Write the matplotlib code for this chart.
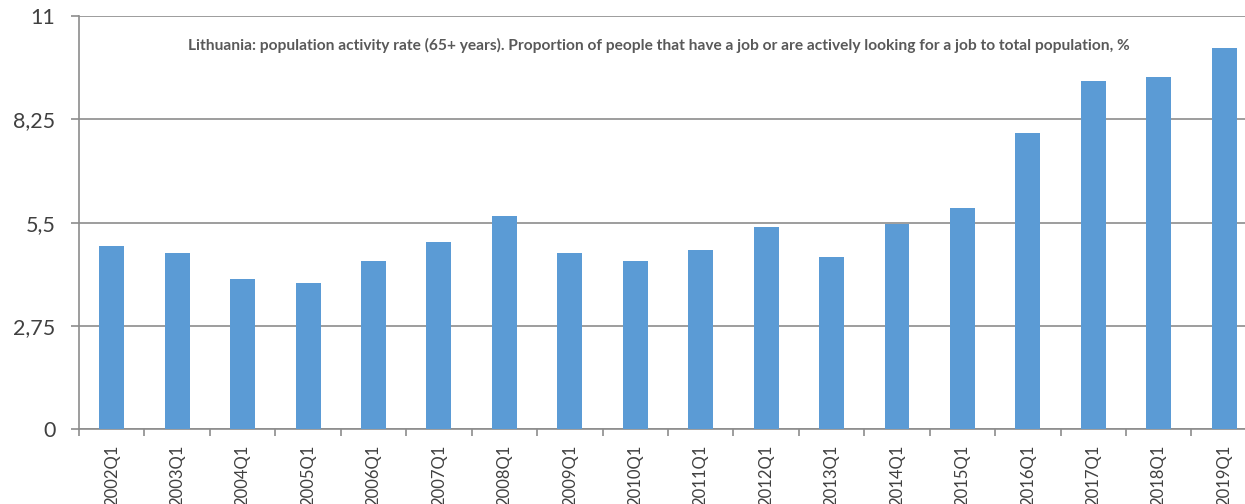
import matplotlib
matplotlib.use("Agg")
import matplotlib.pyplot as plt
import numpy as np

quarters = ["2002Q1", "2003Q1", "2004Q1", "2005Q1", "2006Q1", "2007Q1",
            "2008Q1", "2009Q1", "2010Q1", "2011Q1", "2012Q1", "2013Q1",
            "2014Q1", "2015Q1", "2016Q1", "2017Q1", "2018Q1", "2019Q1"]
activity_rate = [4.89, 4.68, 3.99, 3.89, 4.48, 4.98,
                 5.68, 4.68, 4.48, 4.78, 5.38, 4.59,
                 5.47, 5.88, 7.88, 9.28, 9.37, 10.16]
y_ticks = [0, 2.75, 5.5, 8.25, 11]
y_tick_labels = ["0", "2,75", "5,5", "8,25", "11"]
title = ("Lithuania: population activity rate (65+ years). Proportion of people "
         "that have a job or are actively looking for a job to total population, %")

plt.rcParams["font.family"] = ["Lato", "DejaVu Sans"]

fig = plt.figure(figsize=(12.45, 5.04), dpi=100)
ax = fig.add_axes([0.0635, 0.1488, 0.946, 0.819])

x = np.arange(len(quarters))
ax.bar(x, activity_rate, width=0.38, color="#5B9BD5", zorder=3)

ax.set_xlim(-0.5, len(quarters) - 0.5)
ax.set_ylim(0, 11)
ax.set_yticks(y_ticks)
ax.set_yticklabels(y_tick_labels, fontsize=15.5, color="#404040")
ax.yaxis.grid(True, color="#8c8c8c", linewidth=1.2, zorder=0)

ax.set_xticks(x)
ax.set_xticklabels(quarters, rotation=90, fontsize=12, color="#404040")
ax.tick_params(axis="x", length=0, pad=11)
ax.set_xticks(np.arange(-0.5, len(quarters), 1), minor=True)
ax.tick_params(axis="x", which="minor", length=5, color="#8c8c8c", width=1.2)
ax.tick_params(axis="y", length=6, color="#8c8c8c", width=1.2, pad=11)

for side in ["top", "right"]:
    ax.spines[side].set_visible(False)
for side in ["left", "bottom"]:
    ax.spines[side].set_color("#8c8c8c")
    ax.spines[side].set_linewidth(1.2)

ax.text(0.0925, 0.93, title, transform=ax.transAxes, fontsize=11.2,
        fontweight="bold", color="#595959", ha="left", va="center")

fig.savefig("out.png", dpi=100)
